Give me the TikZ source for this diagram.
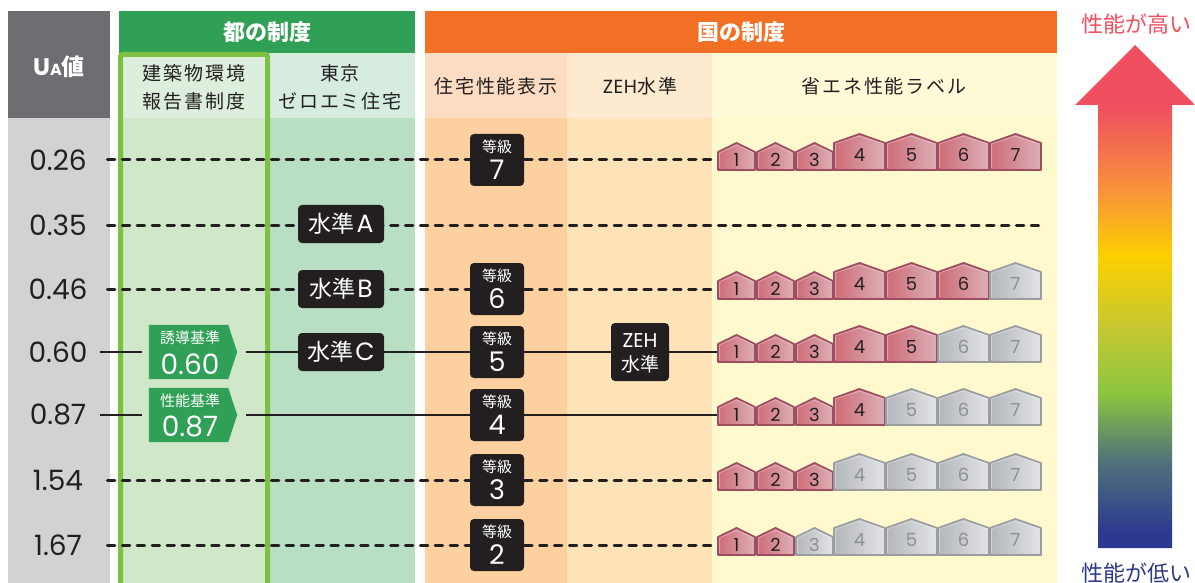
\documentclass[tikz,border=0pt]{standalone}
\usepackage{fontspec}
\setmainfont{Noto Sans CJK JP}
\newfontfamily\pop{Poppins}
\newfontfamily\jpsp[LetterSpace=10]{Noto Sans CJK JP}
\pgfdeclarelayer{bg}
\pgfdeclarelayer{ln}
\pgfsetlayers{bg,ln,main}
\definecolor{ink}{HTML}{231F20}
\definecolor{uahead}{HTML}{6D6E71}
\definecolor{uabody}{HTML}{D1D2D4}
\definecolor{tohead}{HTML}{2FA055}
\definecolor{kensub}{HTML}{DDEFDC}
\definecolor{kenbody}{HTML}{D0E8C9}
\definecolor{zerosub}{HTML}{D5ECDF}
\definecolor{zerobody}{HTML}{B8DFC4}
\definecolor{frame}{HTML}{7DC142}
\definecolor{kunihead}{HTML}{F26F26}
\definecolor{jusub}{HTML}{FCDDC3}
\definecolor{jubody}{HTML}{FDD09F}
\definecolor{zehsub}{HTML}{FDEAD0}
\definecolor{zehbody}{HTML}{FEE3B8}
\definecolor{shosub}{HTML}{FFFBD9}
\definecolor{shobody}{HTML}{FFF9CD}
\definecolor{tagc}{HTML}{2FA055}
\definecolor{hredA}{HTML}{CD6B77}
\definecolor{hredB}{HTML}{DDB0B6}
\definecolor{hredL}{HTML}{9E4E60}
\definecolor{hgrayA}{HTML}{B2B6BA}
\definecolor{hgrayB}{HTML}{E3E4E6}
\definecolor{hgrayL}{HTML}{9A9EA2}
\definecolor{hgrayT}{HTML}{8C9094}
\definecolor{hiC}{HTML}{EF4F5E}
\definecolor{loC}{HTML}{2E3A87}
\definecolor{arB}{HTML}{2B3990}
\definecolor{arT}{HTML}{52727A}
\definecolor{arG}{HTML}{8CC63F}
\definecolor{arYG}{HTML}{C6C830}
\definecolor{arY}{HTML}{FDD000}
\definecolor{arO}{HTML}{F8943B}
\definecolor{arR}{HTML}{EF4F5E}
\pgfdeclareverticalshading{perf}{100bp}{color(0bp)=(arB); color(26.5bp)=(arB); color(33.7bp)=(arT); color(40.4bp)=(arG); color(47bp)=(arYG); color(54bp)=(arY); color(60.5bp)=(arO); color(68.8bp)=(arR); color(100bp)=(arR)}
\tikzset{
  rowlab/.style={font=\pop\fontsize{28}{28}\selectfont, text=ink, inner sep=0},
  dline/.style={draw=ink, line width=3pt, line cap=round, dash pattern=on 7.5pt off 7.4pt, dash phase=7.5pt},
  sline/.style={draw=ink, line width=2.2pt},
  lvbox/.style={fill=ink, rounded corners=4pt, minimum width=86pt, minimum height=38pt, inner sep=0, text=white, font=\fontsize{23}{23}\selectfont},
  gbox/.style={fill=ink, rounded corners=4pt, minimum width=54pt, minimum height=52pt, inner sep=0},
  zbox/.style={fill=ink, rounded corners=4pt, minimum width=58pt, minimum height=58pt, inner sep=0},
  wsmall/.style={text=white, inner sep=0, font=\fontsize{15}{15}\selectfont},
  wbig/.style={text=white, inner sep=0, font=\pop\fontsize{27}{27}\selectfont},
  tagbox/.style={minimum width=88pt, minimum height=54pt, inner sep=0},
  hdtext/.style={text=white, inner sep=0, font=\bfseries\fontsize{22}{22}\selectfont},
  subtext/.style={text=ink, inner sep=0, font=\jpsp\fontsize{19}{19}\selectfont},
  hnum/.style={inner sep=0, font=\pop\fontsize{18}{18}\selectfont},
}
% house: #1 name, #2 x left, #3 row y, #4 0 small / 1 large, #5 number, #6 count of active houses
\newcommand\hz[6]{%
  \ifnum#4=0 \def\hzW{37}\def\hzE{8}\def\hzP{17}\def\hzD{0}\else\def\hzW{51}\def\hzE{17}\def\hzP{26}\def\hzD{-5}\fi
  \ifnum#5>#6 \def\hzA{hgrayA}\def\hzB{hgrayB}\def\hzL{hgrayL}\def\hzT{hgrayT}\else\def\hzA{hredA}\def\hzB{hredB}\def\hzL{hredL}\def\hzT{ink}\fi
  \path[left color=\hzA, right color=\hzB, draw=\hzL, line width=1.8pt, line join=round]
    ({#2},{#3+10}) -- ({#2},{#3-\hzE}) -- ({#2+\hzW/2},{#3-\hzP}) -- ({#2+\hzW},{#3-\hzE}) -- ({#2+\hzW},{#3+10}) -- cycle;
  \draw[white, opacity=0.35, line width=0.8pt, line join=round]
    ({#2+1.6},{#3+8}) -- ({#2+1.6},{#3-\hzE+0.8}) -- ({#2+\hzW/2},{#3-\hzP+2}) -- ({#2+\hzW-1.6},{#3-\hzE+0.8});
  \coordinate (#1-w) at ({#2},{#3});
  \node[hnum, text=\hzT] (#1) at ({#2+\hzW/2},{#3+\hzD}) {#5};
}
\newcommand\houserow[3]{%
  \hz{#1h1}{718}{#2}{0}{1}{#3}%
  \hz{#1h2}{757}{#2}{0}{2}{#3}%
  \hz{#1h3}{796}{#2}{0}{3}{#3}%
  \hz{#1h4}{834}{#2}{1}{4}{#3}%
  \hz{#1h5}{886}{#2}{1}{5}{#3}%
  \hz{#1h6}{938}{#2}{1}{6}{#3}%
  \hz{#1h7}{990}{#2}{1}{7}{#3}%
}
\begin{document}
\begin{tikzpicture}[x=1pt,y=-1pt]
\useasboundingbox (0,0) rectangle (1195,583);
\begin{pgfonlayer}{bg}
\fill[white] (0,0) rectangle (1195,583);
\fill[uahead] (8,11) rectangle (110,118);
\fill[uabody] (8,118) rectangle (110,583);
\fill[tohead] (119,11) rectangle (415,53);
\fill[kensub] (119,53) rectangle (267,118);
\fill[kenbody] (119,118) rectangle (267,583);
\fill[zerosub] (267,53) rectangle (415,118);
\fill[zerobody] (267,118) rectangle (415,583);
\draw[frame, line width=5pt, rounded corners=2pt] (120.5,590) -- (120.5,54.5) -- (267.5,54.5) -- (267.5,590);
\fill[kunihead] (425,11) rectangle (1057,53);
\fill[jusub] (425,53) rectangle (567,118);
\fill[jubody] (425,118) rectangle (567,583);
\fill[zehsub] (567,53) rectangle (712,118);
\fill[zehbody] (567,118) rectangle (712,583);
\fill[shosub] (712,53) rectangle (1057,118);
\fill[shobody] (712,118) rectangle (1057,583);
\end{pgfonlayer}

% headers
\node[inner sep=0, text=white] (ua) at (59,67) {{\pop\bfseries\fontsize{24}{24}\selectfont U}{\pop\bfseries\fontsize{16}{16}\selectfont A}{\bfseries\fontsize{23}{23}\selectfont 値}};
\node[hdtext] (toh) at (267,32) {都の制度};
\node[hdtext] (kunih) at (741,32) {国の制度};
\node[subtext] (ken1) at (194,73) {建築物環境};
\node[subtext] (ken2) at (194,101) {報告書制度};
\node[subtext] (zero1) at (340,73) {東京};
\node[subtext] (zero2) at (340,101) {ゼロエミ住宅};
\node[subtext] (jus) at (496,86) {住宅性能表示};
\node[subtext] (zehs) at (640,86) {{\pop Z\kern0.5pt E\kern0.5pt H}水準};
\node[subtext] (shos) at (884,86) {省エネ性能ラベル};

% row labels and line starts
\node[rowlab] (l1) at (58,160) {0.26};
\node[rowlab] (l2) at (58,225) {0.35};
\node[rowlab] (l3) at (58,289) {0.46};
\node[rowlab] (l4) at (58,352) {0.60};
\node[rowlab] (l5) at (58,415) {0.87};
\node[rowlab] (l6) at (58,480) {1.54};
\node[rowlab] (l7) at (58,545) {1.67};
\coordinate (s1) at (100,160);
\coordinate (s2) at (100,225);
\coordinate (s3) at (100,289);
\coordinate (s4) at (100,352);
\coordinate (s5) at (100,415);
\coordinate (s6) at (100,480);
\coordinate (s7) at (100,545);
\coordinate (eA) at (1043,225);

% green tags
\node[tagbox] (tag1) at (193,352) {};
\fill[tagc] (tag1.south west) -- (tag1.north west) -- ([xshift=-9pt]tag1.north east) -- (tag1.east) -- ([xshift=-9pt]tag1.south east) -- cycle;
\node[wsmall] (tag1a) at (190,338) {誘導基準};
\node[wbig, font=\pop\fontsize{28}{28}\selectfont] (tag1b) at (190,364) {0.60};
\node[tagbox] (tag2) at (193,415) {};
\fill[tagc] (tag2.south west) -- (tag2.north west) -- ([xshift=-9pt]tag2.north east) -- (tag2.east) -- ([xshift=-9pt]tag2.south east) -- cycle;
\node[wsmall] (tag2a) at (190,401) {性能基準};
\node[wbig, font=\pop\fontsize{28}{28}\selectfont] (tag2b) at (190,427) {0.87};

% Tokyo zero-emission levels
\node[lvbox] (lvA) at (341,224) {水準\kern2pt{\pop\fontsize{25}{25}\selectfont A}};
\node[lvbox] (lvB) at (341,289) {水準\kern2pt{\pop\fontsize{25}{25}\selectfont B}};
\node[lvbox] (lvC) at (341,352) {水準\kern2pt{\pop\fontsize{25}{25}\selectfont C}};

% grades
\foreach \g/\y in {7/160,6/289,5/352,4/415,3/480,2/545}{
  \node[gbox] (g\g) at (497,\y) {};
  \node[wsmall] (g\g a) at (497,\y-13) {等級};
  \node[wbig] (g\g b) at (497,\y+10) {\g};
}

% ZEH
\node[zbox] (zeh) at (640,352) {};
\node[wsmall, font=\pop\fontsize{20}{20}\selectfont] (zeha) at (640,341) {ZEH};
\node[wsmall, font=\fontsize{19}{19}\selectfont] (zehb) at (640,364) {水準};

% houses
\houserow{r1}{160}{7}
\houserow{r3}{289}{6}
\houserow{r4}{352}{5}
\houserow{r5}{415}{4}
\houserow{r6}{480}{3}
\houserow{r7}{545}{2}

% performance arrow
\shade[shading=perf] (1098,548) -- (1098,105) -- (1075,105) -- (1135,45) -- (1195,105) -- (1172,105) -- (1172,548) -- cycle;
\node[inner sep=0, text=hiC, font=\fontsize{22}{22}\selectfont] (hiT) at (1136,24) {性能が高い};
\node[inner sep=0, text=loC, font=\fontsize{22}{22}\selectfont] (loT) at (1136,573) {性能が低い};

% connectors
\begin{pgfonlayer}{ln}
\draw[dline] (s1) -- (r1h1-w);
\draw[dline] (s2) -- (eA);
\draw[dline] (s3) -- (r3h1-w);
\draw[sline] (s4) -- ([xshift=-7pt]tag1.west);
\draw[sline] ([xshift=9pt]tag1.east) -- (r4h1-w);
\draw[sline] (s5) -- ([xshift=-7pt]tag2.west);
\draw[sline] ([xshift=9pt]tag2.east) -- (r5h1-w);
\draw[dline] (s6) -- (r6h1-w);
\draw[dline] (s7) -- (r7h1-w);
\end{pgfonlayer}
\end{tikzpicture}
\end{document}
